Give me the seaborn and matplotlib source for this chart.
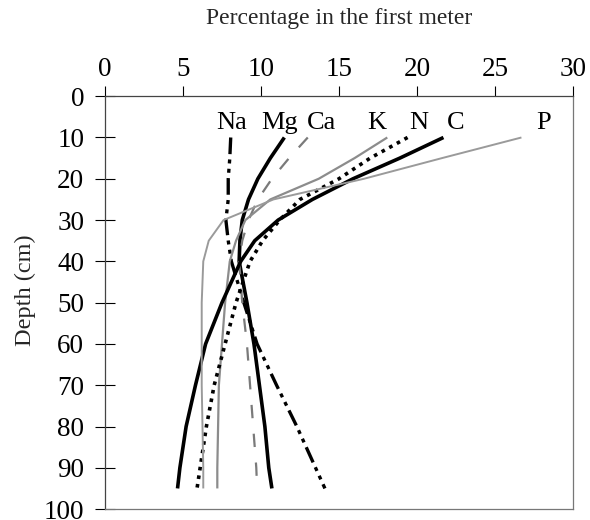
import numpy as np
import pandas as pd
import matplotlib
matplotlib.use("Agg")
import matplotlib.pyplot as plt
import seaborn as sns

# DATA
depth = [10, 15, 20, 25, 30, 35, 40, 50, 60, 70, 80, 90, 95]
na = [8.06, 8.0, 7.9, 7.9, 7.75, 7.9, 8.1, 8.9, 9.75, 11.0, 12.3, 13.5, 14.1]
mg = [11.5, 10.6, 9.8, 9.2, 8.8, 8.65, 8.6, 9.1, 9.55, 9.9, 10.25, 10.5, 10.7]
ca = [13.0, 11.8, 10.7, 9.8, 9.2, 8.8, 8.6, 8.8, 9.1, 9.3, 9.5, 9.7, 9.75]
k = [18.1, 16.0, 13.7, 10.6, 9.0, 8.4, 8.0, 7.7, 7.5, 7.3, 7.25, 7.2, 7.2]
n = [19.4, 17.0, 15.0, 12.5, 11.2, 10.1, 9.3, 8.4, 7.7, 7.0, 6.5, 6.1, 5.9]
c = [21.7, 18.9, 15.9, 13.3, 11.1, 9.6, 8.7, 7.5, 6.45, 5.8, 5.2, 4.8, 4.65]
p = [26.7, 21.6, 16.6, 10.8, 7.6, 6.65, 6.3, 6.2, 6.2, 6.2, 6.25, 6.3, 6.3]
elements = ["Na", "Mg", "Ca", "K", "N", "C", "P"]

x_ticks = [0, 5, 10, 15, 20, 25, 30]
y_ticks = [0, 10, 20, 30, 40, 50, 60, 70, 80, 90, 100]

# label positions above the curves
label_x = [8.1, 11.2, 13.9, 17.4, 20.1, 22.5, 28.1]
label_y = 6.5

series = {"Na": na, "Mg": mg, "Ca": ca, "K": k, "N": n, "C": c, "P": p}
df = pd.concat(
    [pd.DataFrame({"element": el, "depth": depth, "pct": series[el]}) for el in elements],
    ignore_index=True,
)

styles = {
    "Na": dict(color="black", lw=2.4, dashes=(5, 1.6, 1.2, 1.6, 1.2, 1.6)),
    "Mg": dict(color="black", lw=2.6, dashes=None),
    "Ca": dict(color="#7a7a7a", lw=1.6, dashes=(6, 7)),
    "K": dict(color="#8c8c8c", lw=1.6, dashes=None),
    "N": dict(color="black", lw=2.6, dashes=(1.0, 1.4)),
    "C": dict(color="black", lw=2.6, dashes=None),
    "P": dict(color="#9a9a9a", lw=1.4, dashes=None),
}

sns.set_theme(style="white")
plt.rcParams["font.family"] = ["Liberation Serif", "DejaVu Serif"]

fig = plt.figure(figsize=(5.9, 5.2), dpi=100)
ax = fig.add_axes([0.178, 0.021, 0.793, 0.794])

for el in elements:
    st = styles[el]
    sns.lineplot(data=df[df["element"] == el], x="pct", y="depth",
                 orient="y", sort=False, estimator=None, ax=ax,
                 color=st["color"], linewidth=st["lw"])
    ln = ax.lines[-1]
    if st["dashes"] is not None:
        ln.set_dashes(st["dashes"])
    ln.set_solid_capstyle("butt")

for el, lx in zip(elements, label_x):
    ax.text(lx, label_y, el, ha="center", va="center", fontsize=19, color="black")

ax.set_xlim(0, 30)
ax.set_ylim(100, 0)
ax.set_xticks(x_ticks)
ax.set_yticks(y_ticks)
ax.xaxis.tick_top()
ax.xaxis.set_label_position("top")
ax.set_xlabel("Percentage in the first meter", fontsize=17, labelpad=24)
ax.set_ylabel("Depth (cm)", fontsize=17.5)
ax.yaxis.set_label_coords(-0.148, 0.53)
ax.tick_params(axis="x", direction="out", length=7, width=0.8, labelsize=19.5, pad=3,
               colors="black", top=True, bottom=False)
ax.tick_params(axis="y", direction="inout", length=14, width=0.8, labelsize=19.5, pad=8,
               colors="black", left=True)

for side in ["top", "left"]:
    ax.spines[side].set_color("#444444")
    ax.spines[side].set_linewidth(0.9)
for side in ["right", "bottom"]:
    ax.spines[side].set_color("#777777")
    ax.spines[side].set_linewidth(0.9)

fig.savefig("out.png", dpi=100)
